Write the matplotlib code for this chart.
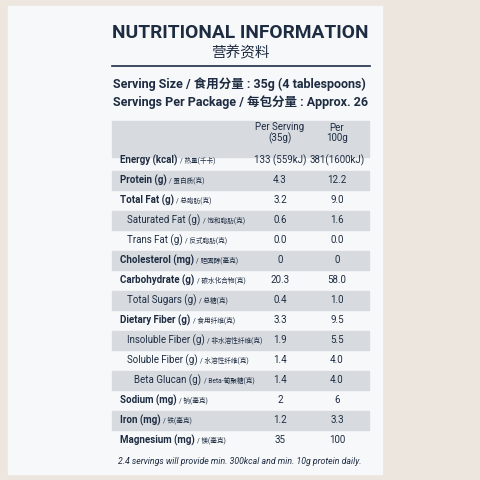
import matplotlib
matplotlib.use("Agg")
import matplotlib.pyplot as plt
from matplotlib.patches import Rectangle

NAVY = "#1e2c42"
SHADE = "#d7dbe0"

labels_en = ["Energy (kcal)", "Protein (g)", "Total Fat (g)", "Saturated Fat (g)", "Trans Fat (g)",
             "Cholesterol (mg)", "Carbohydrate (g)", "Total Sugars (g)", "Dietary Fiber (g)",
             "Insoluble Fiber (g)", "Soluble Fiber (g)", "Beta Glucan (g)", "Sodium (mg)",
             "Iron (mg)", "Magnesium (mg)"]
labels_cn = ["热量(千卡)", "蛋白质(克)", "总脂肪(克)", "饱和脂肪(克)", "反式脂肪(克)",
             "胆固醇(毫克)", "碳水化合物(克)", "总糖(克)", "食用纤维(克)",
             "非水溶性纤维(克)", "水溶性纤维(克)", "Beta-葡聚糖(克)", "钠(毫克)",
             "铁(毫克)", "镁(毫克)"]
indent = [0, 0, 0, 1, 1, 0, 0, 1, 0, 1, 1, 2, 0, 0, 0]
bold = [True, True, True, False, False, True, True, False, True, False, False, False, True, True, True]
per_serving = ["133 (559kJ)", "4.3", "3.2", "0.6", "0.0", "0", "20.3", "0.4", "3.3", "1.9",
               "1.4", "1.4", "2", "1.2", "35"]
per_100g = ["381(1600kJ)", "12.2", "9.0", "1.6", "0.0", "0", "58.0", "1.0", "9.5", "5.5",
            "4.0", "4.0", "6", "3.3", "100"]

FAM = ["Roboto", "Noto Sans CJK SC", "DejaVu Sans"]
CJK = ["Noto Sans CJK SC", "DejaVu Sans"]

fig = plt.figure(figsize=(4.8, 4.8), dpi=100)
fig.patch.set_facecolor("#ece6df")
ax = fig.add_axes([0, 0, 1, 1])
ax.set_xlim(0, 480)
ax.set_ylim(480, 0)
ax.axis("off")

ax.add_patch(Rectangle((8, 6), 374, 468, color="#f7f8f9", zorder=0))

ax.text(240, 33, "NUTRITIONAL INFORMATION", ha="center", va="center", fontsize=13.8,
        fontweight="bold", color=NAVY, family=FAM)
ax.text(240, 53, "营养资料", ha="center", va="center", fontsize=10.5, color=NAVY, family=CJK)
ax.plot([112, 370], [66, 66], color=NAVY, lw=1.2)
ax.text(113, 84, "Serving Size / 食用分量 : 35g (4 tablespoons)", ha="left", va="center",
        fontsize=9.0, fontweight="bold", color=NAVY, family=FAM)
ax.text(113, 102, "Servings Per Package / 每包分量 : Approx. 26", ha="left", va="center",
        fontsize=9.0, fontweight="bold", color=NAVY, family=FAM)

x1, x2 = 280, 337
ax.add_patch(Rectangle((112, 121), 257, 36, color=SHADE, zorder=1))
ax.text(x1, 133, "Per Serving\n(35g)", ha="center", va="center", fontsize=7.0, color=NAVY,
        family=FAM, linespacing=1.1, zorder=2)
ax.text(x2, 133, "Per\n100g", ha="center", va="center", fontsize=7.0, color=NAVY,
        family=FAM, linespacing=1.1, zorder=2)

fig.canvas.draw()
for i, (en, cn) in enumerate(zip(labels_en, labels_cn)):
    y = 160 + 20 * i
    if i % 2 == 1:
        ax.add_patch(Rectangle((112, y - 9.5), 257, 19, color=SHADE, zorder=1))
    x = 120 + 7 * indent[i]
    t = ax.text(x, y, en, ha="left", va="center", fontsize=7.0, color=NAVY, family=FAM,
                fontweight="bold" if bold[i] else "normal", zorder=2)
    bb = t.get_window_extent(renderer=fig.canvas.get_renderer())
    xe = ax.transData.inverted().transform((bb.x1, 0))[0]
    ax.text(xe + 2.5, y + 0.5, "/ " + cn, ha="left", va="center", fontsize=4.8, color=NAVY,
            family=FAM, zorder=2)
    ax.text(x1, y, per_serving[i], ha="center", va="center", fontsize=7.0, color=NAVY,
            family=FAM, zorder=2)
    ax.text(x2, y, per_100g[i], ha="center", va="center", fontsize=7.0, color=NAVY,
            family=FAM, zorder=2)

ax.text(240, 461, "2.4 servings will provide min. 300kcal and min. 10g protein daily.",
        ha="center", va="center", fontsize=6.3, style="italic", color=NAVY, family=FAM)

fig.savefig("out.png", dpi=100, facecolor=fig.get_facecolor())
